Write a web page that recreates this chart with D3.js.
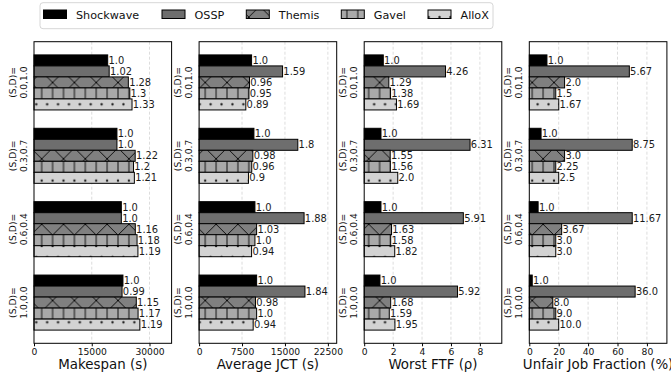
<!DOCTYPE html>
<html>
<head>
<meta charset="utf-8">
<script src="https://cdn.jsdelivr.net/npm/d3@7"></script>
<style>
  body { margin: 0; background: #fff; }
  svg { display: block; }
  text { font-family: "DejaVu Sans", sans-serif; }
</style>
</head>
<body>
<svg id="chart" width="671" height="379"></svg>
<script>
// Workload mixes (S,D) and the schedulers compared
const groups = ["0.0,1.0", "0.3,0.7", "0.6,0.4", "1.0,0.0"];
const schedulers = ["Shockwave", "OSSP", "Themis", "Gavel", "AlloX"];

// Shockwave's absolute value for each mix; bars of the other schedulers are
// Shockwave's value times the normalized ratio printed next to each bar.
const makespanBase = [19140, 21540, 22680, 23100];
const makespanRatios = [
  [1.0, 1.02, 1.28, 1.3, 1.33],
  [1.0, 1.0, 1.22, 1.2, 1.21],
  [1.0, 1.0, 1.16, 1.18, 1.19],
  [1.0, 0.99, 1.15, 1.17, 1.19]
];
const jctBase = [9170, 9580, 9755, 10050];
const jctRatios = [
  [1.0, 1.59, 0.96, 0.95, 0.89],
  [1.0, 1.8, 0.98, 0.96, 0.9],
  [1.0, 1.88, 1.03, 1.0, 0.94],
  [1.0, 1.84, 0.98, 1.0, 0.94]
];
const ftfBase = [1.32, 1.16, 1.16, 1.09];
const ftfRatios = [
  [1.0, 4.26, 1.29, 1.38, 1.69],
  [1.0, 6.31, 1.55, 1.56, 2.0],
  [1.0, 5.91, 1.63, 1.58, 1.82],
  [1.0, 5.92, 1.68, 1.59, 1.95]
];
const unfairBase = [12, 8, 6, 2];
const unfairRatios = [
  [1.0, 5.67, 2.0, 1.5, 1.67],
  [1.0, 8.75, 3.0, 2.25, 2.5],
  [1.0, 11.67, 3.67, 3.0, 3.0],
  [1.0, 36.0, 8.0, 9.0, 10.0]
];

const makespanTicks = [0, 15000, 30000];
const jctTicks = [0, 7500, 15000, 22500];
const ftfTicks = [0, 2, 4, 6, 8];
const unfairTicks = [0, 20, 40, 60, 80];

const panels = [
  { title: "Makespan (s)", base: makespanBase, ratios: makespanRatios, ticks: makespanTicks },
  { title: "Average JCT (s)", base: jctBase, ratios: jctRatios, ticks: jctTicks },
  { title: "Worst FTF (\u03c1)", base: ftfBase, ratios: ftfRatios, ticks: ftfTicks },
  { title: "Unfair Job Fraction (%)", base: unfairBase, ratios: unfairRatios, ticks: unfairTicks }
];

const svg = d3.select("#chart");
const defs = svg.append("defs");

// Hatch lattice (unit = spacing of the vertical hatch lines)
const U = 10.9, X0 = 41.7, Y0 = 93.4;
const hatchStroke = 0.9;

// Themis: crossed diagonal hatch on gray
(function () {
  const p = defs.append("pattern").attr("id", "hatch-x")
    .attr("patternUnits", "userSpaceOnUse")
    .attr("x", X0).attr("y", Y0).attr("width", 2 * U).attr("height", 2 * U);
  p.append("rect").attr("width", 2 * U).attr("height", 2 * U).attr("fill", "#808080");
  [-2 * U, 0, 2 * U].forEach(c => {
    p.append("line").attr("x1", -U).attr("y1", -U + c).attr("x2", 3 * U).attr("y2", 3 * U + c)
      .attr("stroke", "#000").attr("stroke-width", hatchStroke);
    p.append("line").attr("x1", -U).attr("y1", 3 * U + c).attr("x2", 3 * U).attr("y2", -U + c)
      .attr("stroke", "#000").attr("stroke-width", hatchStroke);
  });
})();

// Gavel: vertical line hatch on dark gray
(function () {
  const p = defs.append("pattern").attr("id", "hatch-v")
    .attr("patternUnits", "userSpaceOnUse")
    .attr("x", X0).attr("y", 0).attr("width", U).attr("height", U);
  p.append("rect").attr("width", U).attr("height", U).attr("fill", "#a9a9a9");
  [0, U].forEach(x => p.append("line").attr("x1", x).attr("y1", 0).attr("x2", x).attr("y2", U)
    .attr("stroke", "#000").attr("stroke-width", hatchStroke));
})();

// AlloX: staggered small dots on light gray
(function () {
  const p = defs.append("pattern").attr("id", "hatch-dot")
    .attr("patternUnits", "userSpaceOnUse")
    .attr("x", X0).attr("y", Y0).attr("width", U).attr("height", 2 * U);
  p.append("rect").attr("width", U).attr("height", 2 * U).attr("fill", "#d3d3d3");
  [[0, 0], [U, 0], [0, 2 * U], [U, 2 * U], [U / 2, U]].forEach(([cx, cy]) =>
    p.append("circle").attr("cx", cx).attr("cy", cy).attr("r", 1.2).attr("fill", "#222"));
})();

const fills = ["#000000", "#6e6e6e", "url(#hatch-x)", "url(#hatch-v)", "url(#hatch-dot)"];

// Layout of the four panels
const panelLeft = 34, panelStep = 165.1, panelWidth = 137.6;
const plotTop = 41.7, plotBottom = 343.3;
const barH = 0.15;

const y = d3.scaleLinear().domain([-0.555, 3.555]).range([plotTop, plotBottom]);
const fmt = v => Number.isInteger(v) ? v.toFixed(1) : String(v);

panels.forEach((pn, pi) => {
  const left = panelLeft + pi * panelStep;
  const right = left + panelWidth;
  const rows = [];
  pn.base.forEach((b, gi) => {
    pn.ratios[gi].forEach((r, si) => {
      rows.push({ gi, si, ratio: r, value: b * r });
    });
  });
  const maxV = d3.max(rows, d => d.value);
  const x = d3.scaleLinear().domain([0, maxV * 1.3]).range([left, right]);

  const g = svg.append("g");

  // dashed vertical grid
  g.selectAll("line.grid").data(pn.ticks.filter(t => t > 0)).join("line")
    .attr("x1", d => x(d)).attr("x2", d => x(d))
    .attr("y1", plotTop).attr("y2", plotBottom)
    .attr("stroke", "#d4d4d4").attr("stroke-width", 0.8)
    .attr("stroke-dasharray", "3,2");

  // bars
  g.selectAll("rect.bar").data(rows).join("rect")
    .attr("x", x(0))
    .attr("y", d => y(d.gi + (d.si - 2) * barH - barH / 2))
    .attr("width", d => x(d.value) - x(0))
    .attr("height", y(barH) - y(0))
    .attr("fill", d => fills[d.si])
    .attr("stroke", "#000").attr("stroke-width", 1);

  // normalized value labels
  g.selectAll("text.val").data(rows).join("text")
    .attr("x", d => x(d.value) + 0.8)
    .attr("y", d => y(d.gi + (d.si - 2) * barH))
    .attr("dominant-baseline", "central")
    .attr("font-size", 9.9)
    .attr("fill", "#1a1a1a")
    .text(d => fmt(d.ratio));

  // frame
  g.append("rect").attr("x", left).attr("y", plotTop)
    .attr("width", panelWidth).attr("height", plotBottom - plotTop)
    .attr("fill", "none").attr("stroke", "#000").attr("stroke-width", 1);

  // x axis
  const axis = g.append("g").attr("transform", `translate(0,${plotBottom})`)
    .call(d3.axisBottom(x).tickValues(pn.ticks).tickFormat(d3.format("d")).tickSize(3).tickPadding(2.5));
  axis.select(".domain").remove();
  axis.selectAll("text").attr("font-size", 9.2).attr("fill", "#111").attr("font-family", "DejaVu Sans");
  axis.selectAll("line").attr("stroke", "#000");

  g.append("text")
    .attr("x", (left + right) / 2).attr("y", 369)
    .attr("text-anchor", "middle").attr("font-size", 13.4).attr("fill", "#111")
    .text(pn.title);

  // group labels on the left, rotated
  groups.forEach((name, gi) => {
    const t = g.append("text")
      .attr("transform", `translate(${left - 18},${y(gi)}) rotate(-90)`)
      .attr("text-anchor", "middle").attr("font-size", 9.2).attr("fill", "#111");
    t.append("tspan").attr("x", 0).attr("dy", 0).text("(S,D)=");
    t.append("tspan").attr("x", 0).attr("dy", "1.15em").text(name);
  });
});

// legend
const legend = svg.append("g");
legend.append("rect").attr("x", 40).attr("y", 2.7).attr("width", 453).attr("height", 26)
  .attr("rx", 3).attr("fill", "#fff").attr("stroke", "#cccccc").attr("stroke-width", 0.8);
const legendX = [43.5, 162, 246.3, 341.3, 428];
schedulers.forEach((s, i) => {
  legend.append("rect").attr("x", legendX[i]).attr("y", 10).attr("width", 23).attr("height", 8.5)
    .attr("fill", fills[i]).attr("stroke", "#000").attr("stroke-width", 1);
  legend.append("text").attr("x", legendX[i] + 32.5).attr("y", 19.3)
    .attr("font-size", 11.2).attr("fill", "#111").text(s);
});
</script>
</body>
</html>
